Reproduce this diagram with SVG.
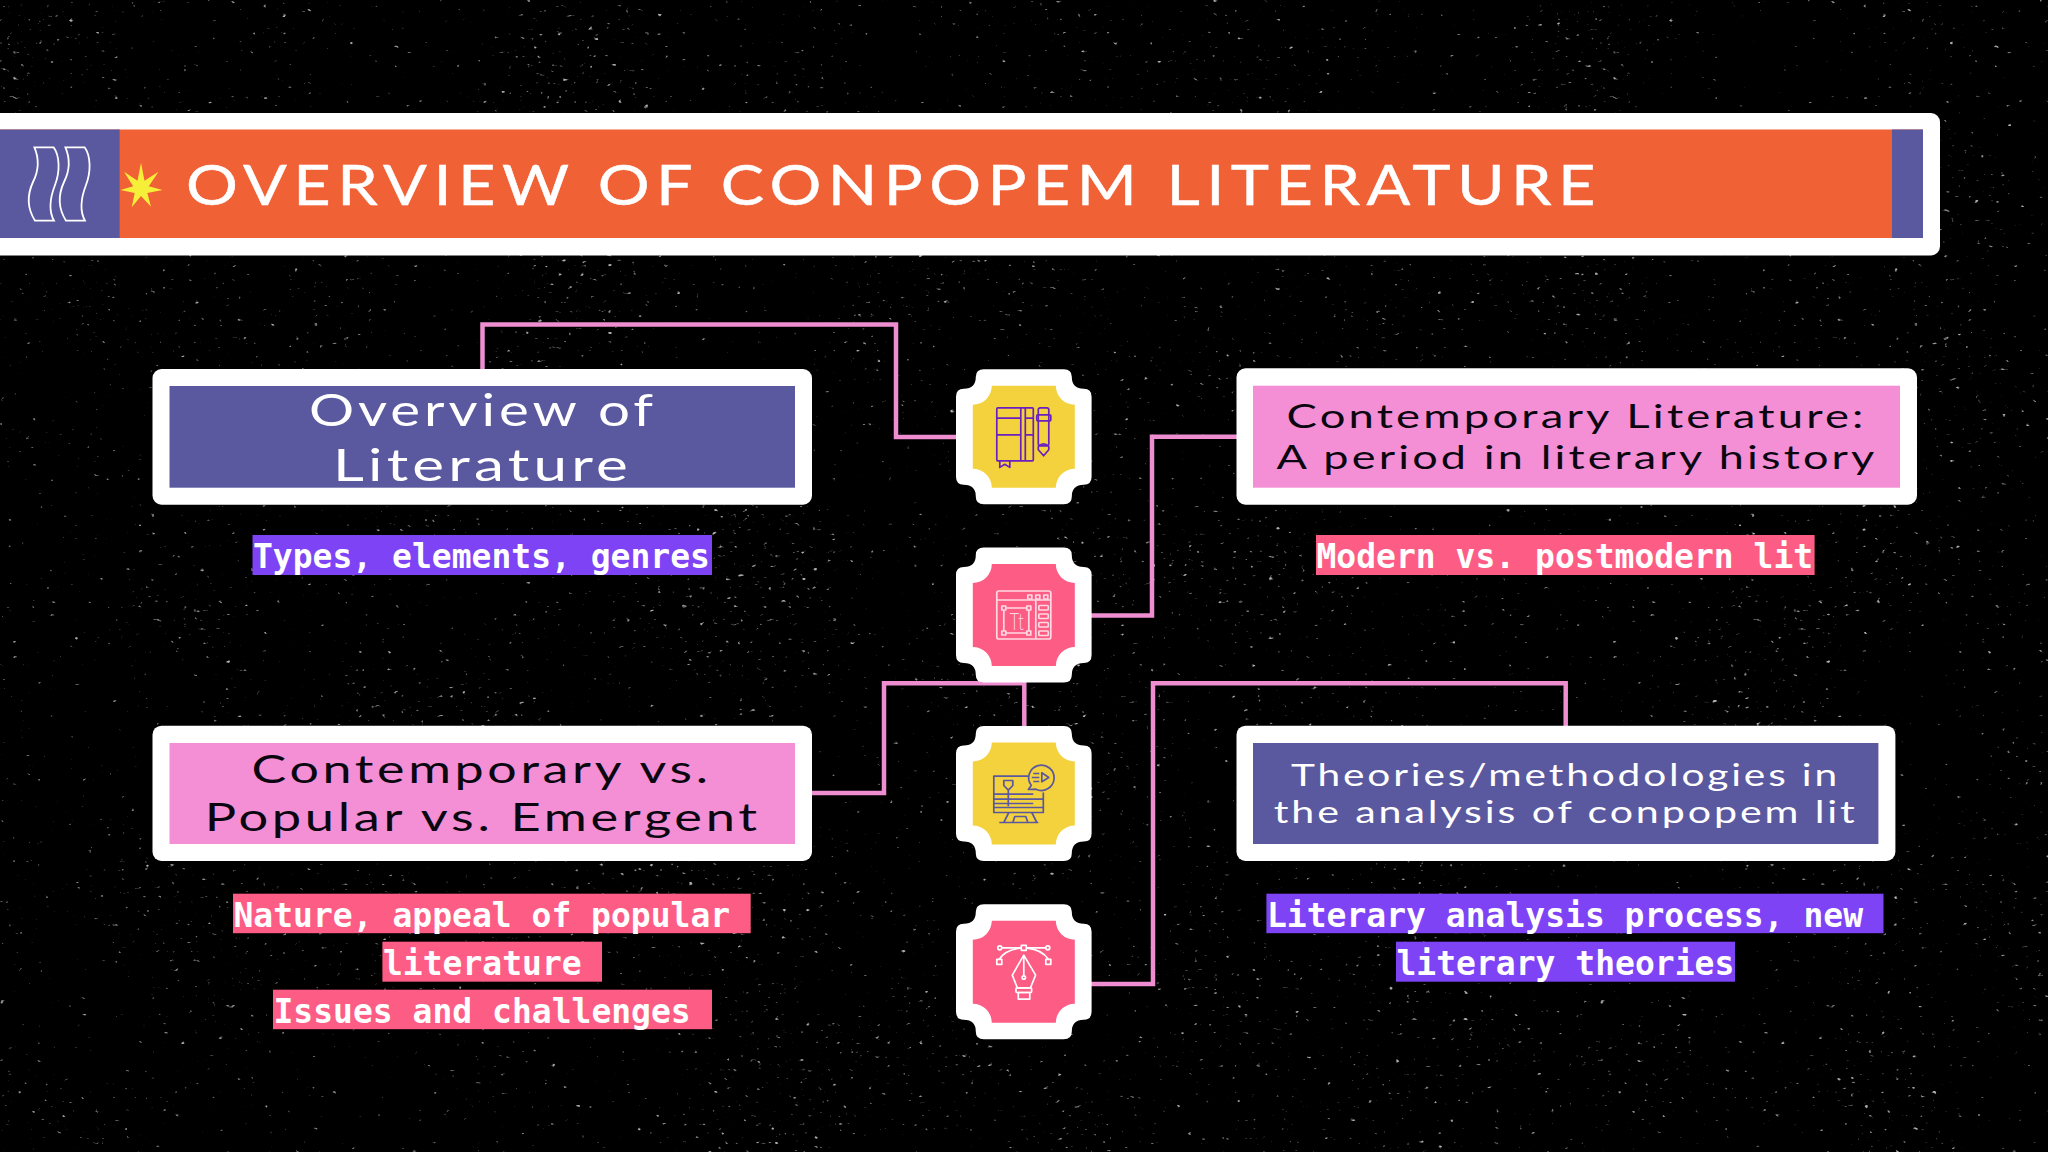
<svg xmlns="http://www.w3.org/2000/svg" width="2048" height="1152" viewBox="0 0 2048 1152">
<style>
.head{font-family:"Lato","Liberation Sans",sans-serif;font-weight:400;letter-spacing:.07em}
.sub{font-family:"DejaVu Sans Mono","Liberation Mono",monospace;font-weight:700;font-size:33px;fill:#fff}
.white{fill:#fff}
.dk{fill:#0b0710}
.li{fill:#fff}
.c{fill:none;stroke:#ee8dd0;stroke-width:4.5}
.ic{fill:none;stroke-width:1.7;stroke-linejoin:round}
</style>
<defs>
<filter id="stars" x="0" y="0" width="100%" height="100%" color-interpolation-filters="sRGB">
<feTurbulence type="fractalNoise" baseFrequency="0.16 0.22" numOctaves="2" seed="11" result="a"/>
<feColorMatrix in="a" type="matrix" values="1 0 0 0 0 1 0 0 0 0 1 0 0 0 0 0 0 0 0 1" result="a1"/>
<feTurbulence type="fractalNoise" baseFrequency="0.006" numOctaves="2" seed="4" result="b"/>
<feColorMatrix in="b" type="matrix" values="1 0 0 0 0 1 0 0 0 0 1 0 0 0 0 0 0 0 0 1" result="b1"/>
<feComposite in="a1" in2="b1" operator="arithmetic" k1="0" k2="1" k3="0.16" k4="-0.08" result="m"/>
<feColorMatrix in="m" type="matrix" values="0 0 0 0 0.68 0 0 0 0 0.68 0 0 0 0 0.68 7 0 0 0 -5.25"/>
<feGaussianBlur stdDeviation="0.6"/>
</filter>
<path id="outer" d="M-40,-67.5 H40 Q48,-67.5 48,-60 Q48,-48 60,-48 Q67.8,-48 67.8,-40 V40 Q67.8,48 60,48 Q48,48 48,60 Q48,67.5 40,67.5 H-40 Q-48,67.5 -48,60 Q-48,48 -60,48 Q-67.8,48 -67.8,40 V-40 Q-67.8,-48 -60,-48 Q-48,-48 -48,-60 Q-48,-67.5 -40,-67.5 Z" fill="#fff"/>
<path id="inner" d="M-32,-51 H32 A19,19 0 0 0 51,-32 V32 A19,19 0 0 0 32,51 H-32 A19,19 0 0 0 -51,32 V-32 A19,19 0 0 0 -32,-51 Z"/>
<path id="wave" d="M34.4 147.3H53.6C60 156 60 172 55 185C50 198 48 210 54 220.7H35C27 208 27 195 33 182C39 170 39 158 34.4 147.3Z" fill="none" stroke="#fff" stroke-width="1.8"/>
</defs>
<rect width="2048" height="1152" fill="#000"/>
<rect id="starfield" width="2048" height="1152" filter="url(#stars)"/>

<g id="connectors">
<path class="c" d="M482.5 369V324.500H896V437H956"/>
<path class="c" d="M1091 615.500H1152V436.700H1237"/>
<path class="c" d="M812 793H884V683.300H1024.300V726"/>
<path class="c" d="M1091 984H1153V683.300H1565.700V726"/>
</g>

<g id="banner">
<rect class="white" x="-20" y="113" width="1960" height="142.500" rx="9"/>
<rect x="0" y="129.500" width="1923" height="108.500" fill="#f06136"/>
<rect x="0" y="129.500" width="119.600" height="108.500" fill="#5a589f"/>
<rect x="1892" y="129.500" width="31" height="108.500" fill="#5a589f"/>
<use href="#wave"/>
<use href="#wave" x="31"/>
<polygon fill="#f5ef3a" points="141,162.700 144.500,180.800 158.500,171.700 148.800,186.200 162.500,190 147.300,193 151,206.700 141,196 131.700,207.300 134.700,193 120.500,190 133.200,186.200 124,171.700 137.500,180.800"/>
<text class="head" x="186" y="205" font-size="57" fill="#fff" stroke="#fff" stroke-width=".5" style="letter-spacing:.1em" textLength="1416" lengthAdjust="spacingAndGlyphs">OVERVIEW OF CONPOPEM LITERATURE</text>
</g>

<g id="node-overview">
<rect class="white" x="152.500" y="369" width="659.500" height="135.700" rx="9"/>
<rect x="169.500" y="386" width="625.500" height="101.700" fill="#5a589f"/>
<text class="head li" x="309" y="426" font-size="44" textLength="348" lengthAdjust="spacingAndGlyphs">Overview of</text>
<text class="head li" x="333" y="480.700" font-size="44" textLength="299" lengthAdjust="spacingAndGlyphs">Literature</text>
<rect x="252.500" y="535" width="459.500" height="40" fill="#7e43f5"/>
<text class="sub" x="253" y="568">Types, elements, genres</text>
</g>

<g id="node-contemporary-literature">
<rect class="white" x="1236.500" y="368.300" width="680.500" height="136.400" rx="9"/>
<rect x="1253" y="385.700" width="647" height="102" fill="#f48fd6"/>
<text class="head dk" x="1286.600" y="428" font-size="33.500" textLength="580" lengthAdjust="spacingAndGlyphs">Contemporary Literature:</text>
<text class="head dk" x="1276.500" y="469" font-size="33.500" textLength="601" lengthAdjust="spacingAndGlyphs">A period in literary history</text>
<rect x="1316" y="535" width="498.600" height="40" fill="#fd5c85"/>
<text class="sub" x="1316.500" y="568">Modern vs. postmodern lit</text>
</g>

<g id="node-popular">
<rect class="white" x="152.500" y="725.700" width="659.500" height="135.300" rx="9"/>
<rect x="169.500" y="743" width="625.500" height="101" fill="#f48fd6"/>
<text class="head dk" x="251.600" y="783" font-size="38" textLength="460" lengthAdjust="spacingAndGlyphs">Contemporary vs.</text>
<text class="head dk" x="204.700" y="831" font-size="38" textLength="556" lengthAdjust="spacingAndGlyphs">Popular vs. Emergent</text>
<rect x="233" y="893.700" width="517.700" height="39.500" fill="#fd5c85"/>
<rect x="382.400" y="941.700" width="219.600" height="40" fill="#fd5c85"/>
<rect x="273" y="989.700" width="439" height="39.500" fill="#fd5c85"/>
<text class="sub" x="233.500" y="926.700">Nature, appeal of popular</text>
<text class="sub" x="383" y="975">literature</text>
<text class="sub" x="273.500" y="1022.700">Issues and challenges</text>
</g>

<g id="node-theories">
<rect class="white" x="1236.500" y="725.700" width="658.900" height="135.300" rx="9"/>
<rect x="1253" y="743" width="625.400" height="101" fill="#5a589f"/>
<text class="head li" x="1291" y="786" font-size="31.500" textLength="549" lengthAdjust="spacingAndGlyphs">Theories/methodologies in</text>
<text class="head li" x="1273.700" y="823" font-size="31.500" textLength="584" lengthAdjust="spacingAndGlyphs">the analysis of conpopem lit</text>
<rect x="1266.400" y="893.700" width="617.100" height="39.500" fill="#7e43f5"/>
<rect x="1396" y="941.700" width="339" height="40" fill="#7e43f5"/>
<text class="sub" x="1267" y="926.700">Literary analysis process, new</text>
<text class="sub" x="1396.500" y="974.500">literary theories</text>
</g>

<g id="icon-notebook" transform="translate(1023.800 436.800)">
<use href="#outer"/><use href="#inner" fill="#f4d23d"/>
<g class="ic" stroke="#6a1fc0">
<rect x="-27" y="-29" width="36.500" height="53" rx="1"/>
<path d="M-27 -18.700H-3M-27 -2H-3M-3 -29V24M1.500 -29V24M1.500 -18.700H9.500M1.500 -2H9.500"/>
<path d="M-24 24V30.600L-19 27.500L-14 30.600V24"/>
<rect x="14.500" y="-29" width="10.500" height="38" rx="2"/>
<rect x="13" y="-22" width="14" height="6" rx="1"/>
<path d="M14.500 9.700V13L19.800 19L25 13V9.700Q19.800 4.500 14.500 9.700Z"/>
</g>
</g>

<g id="icon-typography" transform="translate(1023.800 615)">
<use href="#outer"/><use href="#inner" fill="#fd5c85"/>
<g class="ic" stroke="#ffd9e4">
<rect x="-27" y="-24" width="54" height="48" rx="2"/>
<path d="M-27 -15H27M12 -15V24"/>
<rect x="4" y="-20" width="4" height="4"/><rect x="12" y="-20" width="4" height="4"/><rect x="20" y="-20" width="4" height="4"/>
<rect x="15" y="-9.500" width="9.500" height="4.500" rx="1"/><rect x="15" y="-1" width="9.500" height="4.500" rx="1"/><rect x="15" y="7.500" width="9.500" height="4.500" rx="1"/><rect x="15" y="16" width="9.500" height="4.500" rx="1"/>
<path d="M-18 -7H3M-18 18H3M-20 -5V16M5 -5V16"/>
<rect x="-22" y="-9" width="4" height="4"/><rect x="3" y="-9" width="4" height="4"/><rect x="-22" y="16" width="4" height="4"/><rect x="3" y="16" width="4" height="4"/>
</g>
<text x="-14" y="15" font-family="Lato,sans-serif" font-weight="300" font-size="23" fill="#ffd9e4" textLength="14" lengthAdjust="spacingAndGlyphs">Tt</text>
</g>

<g id="icon-screen" transform="translate(1023.800 793.500)">
<use href="#outer"/><use href="#inner" fill="#f4d23d"/>
<g class="ic" stroke="#5a589f" stroke-width="1.800">
<path d="M5 -17.300H-30V19H19.500V-1"/>
<path d="M-30 .7H9.500M-30 5.700H19.500M-30 10H9.500M-30 14H19.500"/>
<path d="M4.500 -4L7.500 -8A12.700 12.700 0 1 1 12 -4.300Z"/>
<path d="M18 -20.700V-11.700L25 -16ZM9.500 -20H15.500M8 -16H15.500M9.500 -12H15.500"/>
<path d="M-20 -13H-11V-8L-15.500 -3.300L-20 -8ZM-15.500 -3.300V12.700"/>
<path d="M-15 19L-20 29M8 19L13 29M-24.500 29H14.500M-11 29L-9 23H2L4 29"/>
</g>
</g>

<g id="icon-pen" transform="translate(1023.800 971.800)">
<use href="#outer"/><use href="#inner" fill="#fd5c85"/>
<g class="ic" stroke="#fff">
<path d="M-22 -24H-2.500M2.500 -24H22"/>
<circle cx="-24" cy="-24" r="2"/><circle cx="24" cy="-24" r="2"/>
<rect x="-2.500" y="-26.500" width="5" height="5"/>
<path d="M-24.500 -12.500Q-19 -22 -2.500 -24M24.500 -12.500Q19 -22 2.500 -24"/>
<rect x="-27" y="-12.500" width="5" height="5"/><rect x="22" y="-12.500" width="5" height="5"/>
<path d="M0 -16.700L-11.500 3.300L-6.500 16H6.700L11.800 3.300ZM0 -16.700V4"/>
<circle cx="0" cy="5.700" r="1.700"/>
<rect x="-7.800" y="16" width="15.600" height="4.700" rx="1"/>
<rect x="-5.500" y="20.700" width="11.500" height="6.600"/>
</g>
</g>
</svg>
